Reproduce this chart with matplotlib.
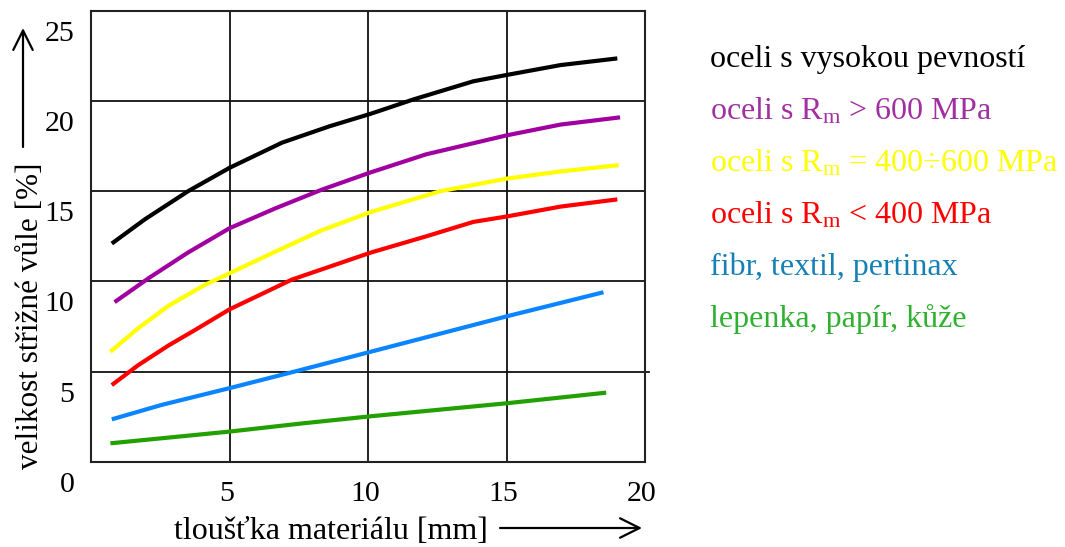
import matplotlib
matplotlib.use("Agg")
import matplotlib.pyplot as plt
from matplotlib.transforms import ScaledTranslation
from matplotlib.patches import FancyArrowPatch

plt.rcParams['font.family'] = ['Liberation Serif', 'DejaVu Serif']
plt.rcParams['mathtext.fontset'] = 'custom'
plt.rcParams['mathtext.rm'] = 'Liberation Serif'
plt.rcParams['mathtext.it'] = 'Liberation Serif:italic'

# ---- data ----
x_black = [0.75, 1.95, 3.5, 5.0, 6.9, 8.6, 10.1, 11.65, 13.8, 15.0, 16.95, 19.0]
y_black = [12.1, 13.45, 15.0, 16.3, 17.7, 18.6, 19.3, 20.1, 21.1, 21.45, 22.0, 22.37]

x_purple = [0.85, 2.1, 3.5, 5.0, 6.65, 8.35, 10.1, 12.1, 15.0, 16.95, 19.1]
y_purple = [8.85, 10.2, 11.6, 12.95, 14.05, 15.1, 16.05, 17.05, 18.1, 18.7, 19.1]

x_yellow = [0.7, 1.7, 2.8, 4.1, 5.0, 6.65, 8.35, 10.1, 12.6, 15.0, 16.95, 19.05]
y_yellow = [6.1, 7.4, 8.65, 9.8, 10.45, 11.65, 12.85, 13.85, 15.0, 15.7, 16.1, 16.45]

x_red = [0.75, 1.7, 2.8, 3.75, 5.0, 7.25, 10.1, 12.1, 13.8, 15.0, 16.95, 19.0]
y_red = [4.25, 5.35, 6.45, 7.3, 8.45, 10.1, 11.6, 12.5, 13.3, 13.6, 14.15, 14.55]

x_blue = [0.75, 2.55, 5.0, 7.35, 10.1, 15.0, 18.5]
y_blue = [2.35, 3.15, 4.08, 5.0, 6.1, 8.06, 9.4]

x_green = [0.7, 5.0, 7.6, 10.1, 15.0, 18.6]
y_green = [1.02, 1.67, 2.12, 2.52, 3.24, 3.83]

legend_labels = [
    "oceli s vysokou pevností",
    r"oceli s R$_{\mathrm{m}}$ > 600 MPa",
    r"oceli s R$_{\mathrm{m}}$ = 400÷600 MPa",
    r"oceli s R$_{\mathrm{m}}$ < 400 MPa",
    "fibr, textil, pertinax",
    "lepenka, papír, kůže",
]
line_colors = ["#000000", "#A000A0", "#FFFF00", "#FF0000", "#0A84FF", "#22A000"]
text_colors = ["#000000", "#A030A0", "#FFFF00", "#FF0000", "#1580B5", "#30B030"]

x_ticks = [5, 10, 15, 20]
y_ticks = [0, 5, 10, 15, 20, 25]
x_label = "tloušťka materiálu [mm]"
y_label = "velikost střižné vůle [%]"

series = [(x_black, y_black), (x_purple, y_purple), (x_yellow, y_yellow),
          (x_red, y_red), (x_blue, y_blue), (x_green, y_green)]

W, H = 1065, 547
fig = plt.figure(figsize=(W / 100, H / 100), dpi=100)
ax = fig.add_axes([91 / W, 1 - 461.7 / H, (645 - 91) / W, (461.7 - 11) / H])

for (xs, ys), c in zip(series, line_colors):
    ax.plot(xs, ys, color=c, lw=3.0, solid_capstyle='butt', solid_joinstyle='round', zorder=3)

ax.set_xlim(0, 20)
ax.set_ylim(0, 25)
ax.set_xticks(x_ticks)
ax.set_xticklabels([str(v) for v in x_ticks])
ax.set_yticks(y_ticks)
ax.set_yticklabels([str(v) for v in y_ticks])
ax.tick_params(length=0, labelsize=21.5)
ax.tick_params(axis='y', pad=12)
ax.tick_params(axis='x', pad=14)
ax.grid(True, color='#111111', lw=1.3, zorder=1)
for s in ax.spines.values():
    s.set_linewidth(1.5)
    s.set_color('#222222')

for lab in ax.get_yticklabels():
    lab.set_transform(lab.get_transform() + ScaledTranslation(0, -0.20, fig.dpi_scale_trans))
for lab in ax.get_xticklabels():
    lab.set_transform(lab.get_transform() + ScaledTranslation(-0.03, 0, fig.dpi_scale_trans))

# extended grid line at y=5 on the right
ax.plot([20, 20.15], [5, 5], color='#111111', lw=1.3, clip_on=False)

# axis labels with arrows
fig.text(38 / W, 1 - 316 / H, y_label, rotation=90, rotation_mode='anchor',
         ha='center', va='baseline', fontsize=22.5)
fig.text(331 / W, 1 - 539 / H, x_label, ha='center', va='baseline', fontsize=23)
fig.add_artist(FancyArrowPatch((23 / W, 1 - 147 / H), (23 / W, 1 - 28 / H),
                               transform=fig.transFigure, arrowstyle='->,head_length=7,head_width=3.5',
                               lw=1.6, color='black', mutation_scale=2, shrinkA=0, shrinkB=0))
fig.add_artist(FancyArrowPatch((500 / W, 1 - 528 / H), (642 / W, 1 - 528 / H),
                               transform=fig.transFigure, arrowstyle='->,head_length=7,head_width=3.5',
                               lw=1.6, color='black', mutation_scale=2, shrinkA=0, shrinkB=0))

# legend as colored text
for i, (t, c) in enumerate(zip(legend_labels, text_colors)):
    fig.text(710 / W, 1 - (67 + 52 * i) / H, t, color=c, fontsize=23, ha='left', va='baseline')

fig.savefig("out.png", dpi=100)
